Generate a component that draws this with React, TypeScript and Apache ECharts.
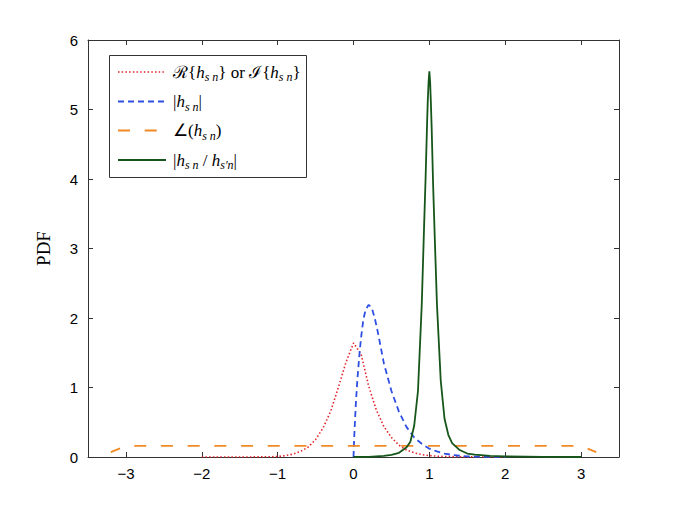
import React, { useEffect, useRef } from "react";
import * as echarts from "echarts";

// Re{h} or Im{h}
const redX = [-2, -1.5, -1.2, -1, -0.9, -0.8, -0.7, -0.6, -0.5, -0.4, -0.3, -0.2, -0.1, 0, 0.1, 0.2, 0.3, 0.4, 0.5, 0.6, 0.7, 0.8, 0.9, 1.0, 1.1, 1.2, 1.4, 1.6, 2];
const redY = [0, 0, 0.002, 0.006, 0.02, 0.04, 0.08, 0.14, 0.25, 0.42, 0.66, 1.0, 1.36, 1.64, 1.48, 1.02, 0.68, 0.44, 0.28, 0.17, 0.1, 0.06, 0.035, 0.02, 0.012, 0.007, 0.003, 0.001, 0];

// |h|
const blueX = [0, 0.01, 0.03, 0.05, 0.08, 0.1, 0.13, 0.16, 0.2, 0.24, 0.28, 0.32, 0.4, 0.5, 0.6, 0.7, 0.8, 0.9, 1.0, 1.1, 1.2, 1.3, 1.4, 1.5, 1.6, 1.8, 2.0];
const blueY = [0, 0.3, 0.75, 1.1, 1.5, 1.72, 1.98, 2.12, 2.19, 2.15, 2.0, 1.8, 1.35, 0.95, 0.65, 0.43, 0.28, 0.19, 0.12, 0.08, 0.05, 0.03, 0.018, 0.01, 0.005, 0.002, 0];

// angle(h)
const orangeX = [-3.2, -3.0, 3.0, 3.2];
const orangeY = [0.07, 0.159, 0.159, 0.07];

// |h / h'|
const greenX = [0, 0.2, 0.4, 0.5, 0.6, 0.7, 0.75, 0.8, 0.85, 0.9, 0.93, 0.95, 0.97, 0.98, 0.99, 1.0, 1.01, 1.02, 1.03, 1.05, 1.07, 1.1, 1.15, 1.2, 1.25, 1.3, 1.4, 1.5, 1.6, 1.8, 2, 2.5, 3];
const greenY = [0, 0.003, 0.015, 0.03, 0.06, 0.14, 0.22, 0.45, 0.95, 2.2, 3.3, 4.0, 4.8, 5.15, 5.4, 5.55, 5.4, 5.1, 4.75, 3.9, 3.2, 2.2, 1.1, 0.55, 0.32, 0.2, 0.1, 0.05, 0.035, 0.015, 0.008, 0.002, 0];

const xTicks = [-3, -2, -1, 0, 1, 2, 3];
const yTicks = [0, 1, 2, 3, 4, 5, 6];

const legendTexts = [
  "{t|ℛ{}{i|h}{s|s n}} {t|or} {t|ℐ{}{i|h}{s|s n}}",
  "{t||}{i|h}{s|s n}{t||}",
  "{t|∠(}{i|h}{s|s n}{t|)}",
  "{t||}{i|h}{s|s n}{t| / }{i|h}{s|s′n}{t||}",
];

const colors = ["#e3242b", "#2f4fe3", "#f08a24", "#17561a"];
const dashes: number[][] = [[1.5, 2.2], [6, 4], [12, 14.7], []];
const dashOffsets = [0, 0, 2, 0];
const widths = [1.6, 1.8, 1.8, 1.8];
const names = ["re", "abs", "angle", "ratio"];

function pairs(xs: number[], ys: number[]) {
  return xs.map((x, i) => [x, ys[i]]);
}

export default function App() {
  const ref = useRef<HTMLDivElement>(null);
  useEffect(() => {
    document.body.style.margin = "0";
    const chart = echarts.init(ref.current!, null, { renderer: "svg" });
    const axisColor = "#333";
    const seriesData = [pairs(redX, redY), pairs(blueX, blueY), pairs(orangeX, orangeY), pairs(greenX, greenY)];
    const rowY = [72, 101.5, 130.5, 160];
    const legendGraphics: any[] = [
      {
        type: "rect",
        shape: { x: 109.5, y: 55.5, width: 197, height: 122 },
        style: { fill: "#fff", stroke: axisColor, lineWidth: 1 },
        z: 100,
      },
    ];
    rowY.forEach((y, i) => {
      legendGraphics.push({
        type: "line",
        shape: { x1: 118, y1: y, x2: 166, y2: y },
        style: { stroke: colors[i], lineWidth: widths[i], lineDash: dashes[i].length ? dashes[i] : null },
        z: 101,
      });
      legendGraphics.push({
        type: "text",
        x: 173,
        y: y,
        style: {
          text: legendTexts[i],
          fontFamily: "Liberation Serif",
          fontSize: 17,
          fill: "#000",
          verticalAlign: "middle",
          lineHeight: 22,
          rich: {
            t: { fontFamily: "Liberation Serif", fontSize: 17, lineHeight: 22, fill: "#000" },
            i: { fontFamily: "Liberation Serif", fontStyle: "italic", fontSize: 17, lineHeight: 22, fill: "#000" },
            s: { fontFamily: "Liberation Serif", fontStyle: "italic", fontSize: 12, lineHeight: 12, verticalAlign: "bottom", fill: "#000" },
          },
        },
        z: 101,
      });
    });

    const tickStyle = { color: axisColor, width: 1 };
    const option: any = {
      animation: false,
      backgroundColor: "#fff",
      grid: { left: 88, right: 66, top: 40, bottom: 57, containLabel: false },
      xAxis: [
        {
          type: "value",
          min: -3.5,
          max: 3.5,
          position: "bottom",
          axisLine: { show: true, onZero: false, lineStyle: tickStyle },
          axisTick: { show: true, inside: true, length: 5, customValues: xTicks, lineStyle: tickStyle },
          axisLabel: {
            customValues: xTicks,
            formatter: (v: number) => String(v).replace("-", "−"),
            color: "#000",
            fontSize: 15,
            fontFamily: "Liberation Sans",
            margin: 9,
          },
          splitLine: { show: false },
        },
        {
          type: "value",
          min: -3.5,
          max: 3.5,
          position: "top",
          axisLine: { show: true, onZero: false, lineStyle: tickStyle },
          axisTick: { show: true, inside: true, length: 5, customValues: xTicks, lineStyle: tickStyle },
          axisLabel: { show: false },
          splitLine: { show: false },
        },
      ],
      yAxis: [
        {
          type: "value",
          min: 0,
          max: 6,
          interval: 1,
          position: "left",
          name: "PDF",
          nameLocation: "middle",
          nameRotate: 90,
          nameGap: 35,
          nameTextStyle: { fontFamily: "Liberation Serif", fontSize: 19, color: "#000" },
          axisLine: { show: true, onZero: false, lineStyle: tickStyle },
          axisTick: { show: true, inside: true, length: 5, customValues: yTicks, lineStyle: tickStyle },
          axisLabel: { customValues: yTicks, color: "#000", fontSize: 15, fontFamily: "Liberation Sans", margin: 10 },
          splitLine: { show: false },
        },
        {
          type: "value",
          min: 0,
          max: 6,
          interval: 1,
          position: "right",
          axisLine: { show: true, onZero: false, lineStyle: tickStyle },
          axisTick: { show: true, inside: true, length: 5, customValues: yTicks, lineStyle: tickStyle },
          axisLabel: { show: false },
          splitLine: { show: false },
        },
      ],
      series: seriesData.map((d, i) => ({
        name: names[i],
        type: "line",
        data: d,
        xAxisIndex: 0,
        yAxisIndex: 0,
        symbol: "none",
        smooth: false,
        lineStyle: {
          color: colors[i],
          width: widths[i],
          type: dashes[i].length ? dashes[i] : "solid",
          dashOffset: dashOffsets[i],
        },
        z: 2 + i,
      })),
      graphic: legendGraphics,
    };
    chart.setOption(option);
    return () => chart.dispose();
  }, []);
  return <div ref={ref} style={{ width: 685, height: 514 }} />;
}
